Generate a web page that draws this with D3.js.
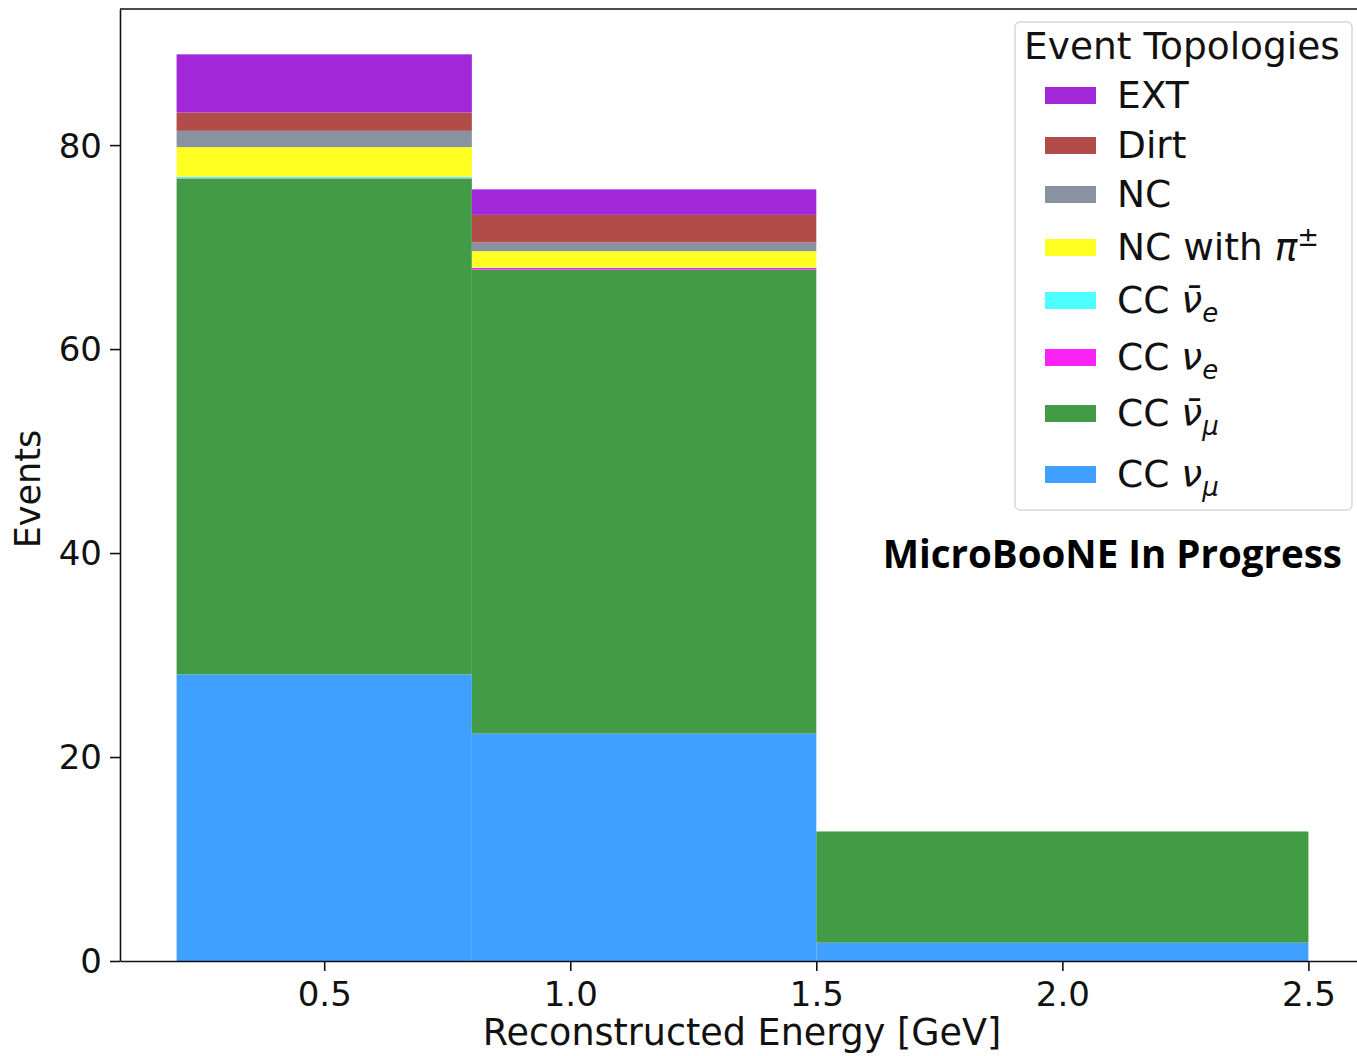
<!DOCTYPE html>
<html>
<head>
<meta charset="utf-8">
<script src="https://cdn.jsdelivr.net/npm/d3@7"></script>
<style>
  body { margin: 0; background: #fff; }
  text { font-family: "DejaVu Sans", sans-serif; }
</style>
</head>
<body>
<svg id="chart"></svg>
<script>
// bin edges in GeV
const binEdges = [0.2, 0.8, 1.5, 2.5]

// stacked from the bottom up
const categories = ['CCnumu', 'CCnumubar', 'CCnue', 'CCnuebar', 'NCpi', 'NC', 'Dirt', 'EXT']
const ccNumu    = [28.1, 22.3, 1.8]
const ccNumubar = [48.6, 45.5, 10.9]
const ccNue     = [0.05, 0.15, 0]
const ccNuebar  = [0.15, 0.05, 0]
const ncPi      = [2.9, 1.6, 0]
const nc        = [1.6, 0.86, 0]
const dirt      = [1.8, 2.7, 0]
const ext       = [5.7, 2.5, 0]

const xTicks = [0.5, 1.0, 1.5, 2.0, 2.5]
const yTicks = [0, 20, 40, 60, 80]

const colors = {
  CCnumu: '#3fa0ff', CCnumubar: '#429b45', CCnue: '#fb22f5', CCnuebar: '#4dfffd',
  NCpi: '#ffff22', NC: '#8892a0', Dirt: '#b24c48', EXT: '#a127d9'
}

let width = 1357
let height = 1056
let margin = { left: 120, top: 9, right: -8, bottom: 95 }

let svg = d3.select('#chart')
  .attr('width', width)
  .attr('height', height)

// build per-bin rows for d3.stack
let series = [ccNumu, ccNumubar, ccNue, ccNuebar, ncPi, nc, dirt, ext]
let rows = binEdges.slice(0, -1).map((lo, i) => {
  let r = { lo: lo, hi: binEdges[i + 1] }
  categories.forEach((c, k) => { r[c] = series[k][i] })
  return r
})
let stacked = d3.stack().keys(categories)(rows)
let maxTotal = d3.max(stacked[stacked.length - 1], d => d[1])

let x = d3.scaleLinear()
  .domain([0.2 - 0.05 * 2.3, 2.5 + 0.05 * 2.3])
  .range([margin.left, width - margin.right])
let y = d3.scaleLinear()
  .domain([0, maxTotal * 1.05])
  .range([height - margin.bottom, margin.top])

let g = svg.append('g')

g.selectAll('g.layer')
  .data(stacked)
  .enter()
  .append('g')
  .attr('class', 'layer')
  .attr('fill', d => colors[d.key])
  .selectAll('rect')
  .data(d => d)
  .enter()
  .append('rect')
  .attr('x', d => x(d.data.lo))
  .attr('width', d => x(d.data.hi) - x(d.data.lo))
  .attr('y', d => y(d[1]))
  .attr('height', d => y(d[0]) - y(d[1]))

// axes
let xAxis = svg.append('g')
  .attr('transform', `translate(0, ${height - margin.bottom})`)
  .call(d3.axisBottom(x).tickValues(xTicks).tickFormat(d3.format('.1f')).tickSize(10).tickSizeOuter(0))
let yAxis = svg.append('g')
  .attr('transform', `translate(${margin.left}, 0)`)
  .call(d3.axisLeft(y).tickValues(yTicks).tickSize(10).tickSizeOuter(0))

xAxis.selectAll('text').style('font-size', '34px').attr('dy', '0.95em').attr('fill', '#111')
yAxis.selectAll('text').style('font-size', '34px').attr('dy', '0.35em').attr('x', -18).attr('fill', '#111')
svg.selectAll('.domain, .tick line').attr('stroke', '#111').attr('stroke-width', 1.6)

// top spine
svg.append('line')
  .attr('x1', margin.left).attr('x2', width)
  .attr('y1', margin.top).attr('y2', margin.top)
  .attr('stroke', '#111').attr('stroke-width', 1.6)

svg.append('text')
  .text('Reconstructed Energy [GeV]')
  .attr('x', 742).attr('y', 1045)
  .style('text-anchor', 'middle')
  .style('font-size', '36.5px')
  .attr('fill', '#111')

svg.append('text')
  .text('Events')
  .attr('transform', `translate(40, 489) rotate(-90)`)
  .style('text-anchor', 'middle')
  .style('font-size', '35px')
  .attr('fill', '#111')

// legend
let legend = svg.append('g').attr('transform', 'translate(1015, 22)')
legend.append('rect')
  .attr('width', 337).attr('height', 488)
  .attr('rx', 5)
  .attr('fill', 'white').attr('fill-opacity', 0.8)
  .attr('stroke', '#d8d8d8').attr('stroke-width', 1.5)
legend.append('text')
  .text('Event Topologies')
  .attr('x', 167).attr('y', 37)
  .style('text-anchor', 'middle')
  .style('font-size', '37.5px')
  .attr('fill', '#111')

let legendItems = [
  { key: 'EXT', label: 'EXT', cy: 73 },
  { key: 'Dirt', label: 'Dirt', cy: 123 },
  { key: 'NC', label: 'NC', cy: 172 },
  { key: 'NCpi', label: 'NC with ', greek: 'π', sup: '±', cy: 225 },
  { key: 'CCnuebar', label: 'CC ', greek: 'ν\u0304', sub: 'e', cy: 278 },
  { key: 'CCnue', label: 'CC ', greek: 'ν', sub: 'e', cy: 335 },
  { key: 'CCnumubar', label: 'CC ', greek: 'ν\u0304', sub: 'μ', cy: 391 },
  { key: 'CCnumu', label: 'CC ', greek: 'ν', sub: 'μ', cy: 452 }
]

let item = legend.selectAll('g.item')
  .data(legendItems)
  .enter()
  .append('g')
  .attr('class', 'item')
  .attr('transform', d => `translate(0, ${d.cy})`)

item.append('rect')
  .attr('x', 30).attr('y', -8)
  .attr('width', 51).attr('height', 17)
  .attr('fill', d => colors[d.key])

let label = item.append('text')
  .attr('x', 102).attr('y', 13)
  .style('font-size', '37.5px')
  .attr('fill', '#111')
label.append('tspan').text(d => d.label)
label.filter(d => d.greek).append('tspan')
  .text(d => d.greek)
  .style('font-style', 'italic')
label.filter(d => d.sub).append('tspan')
  .text(d => d.sub)
  .style('font-style', 'italic')
  .style('font-size', '26px')
  .attr('dy', 9)
label.filter(d => d.sup).append('tspan')
  .text(d => d.sup)
  .style('font-size', '26px')
  .attr('dy', -14)

svg.append('text')
  .text('MicroBooNE In Progress')
  .attr('x', 1342).attr('y', 568)
  .style('text-anchor', 'end')
  .style('font-family', '"Open Sans", sans-serif')
  .style('font-weight', 'bold')
  .style('font-size', '38.5px')
  .attr('fill', '#000')
</script>
</body>
</html>
